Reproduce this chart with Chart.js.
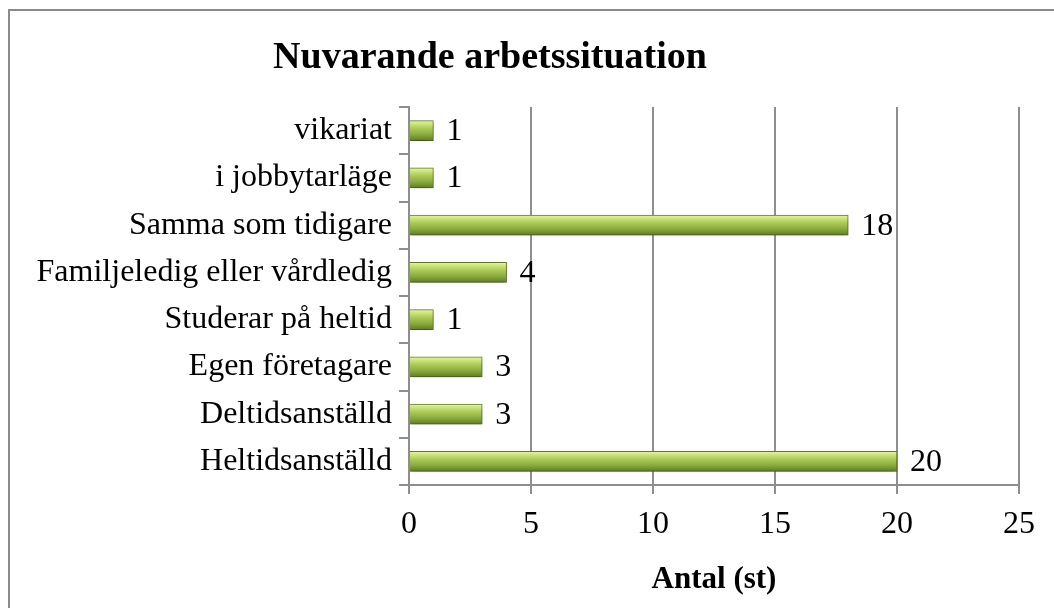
<!DOCTYPE html>
<html>
<head>
<meta charset="utf-8">
<script src="https://cdn.jsdelivr.net/npm/chart.js@4.4.0/dist/chart.umd.min.js"></script>
<style>
  html, body { margin: 0; padding: 0; background: #fff; }
  #wrap { position: relative; width: 1054px; height: 608px; overflow: hidden; }
  #frame { position: absolute; left: 8px; top: 9px; width: 1100px; height: 700px;
           border-top: 2px solid #8a8a8a; border-left: 2px solid #8a8a8a; }
  canvas { position: absolute; left: 0; top: 0; }
</style>
</head>
<body>
<div id="wrap">
  <div id="frame"></div>
  <canvas id="chart" width="1054" height="608"></canvas>
</div>
<script>
  // data, top to bottom as in the picture
  const categories = ['vikariat', 'i jobbytarläge', 'Samma som tidigare', 'Familjeledig eller vårdledig',
                      'Studerar på heltid', 'Egen företagare', 'Deltidsanställd', 'Heltidsanställd'];
  const counts = [1, 1, 18, 4, 1, 3, 3, 20];
  const xTicks = [0, 5, 10, 15, 20, 25];

  const chartTitle = 'Nuvarande arbetssituation';
  const xTitle = 'Antal (st)';
  const serif = '"Liberation Serif", "Times New Roman", serif';

  // title sits left of the plot centre, like the original
  const titlePlugin = {
    id: 'titlePlugin',
    afterDraw(chart) {
      const ctx = chart.ctx;
      ctx.save();
      ctx.font = 'bold 38px ' + serif;
      ctx.fillStyle = '#000';
      ctx.textAlign = 'center';
      ctx.textBaseline = 'middle';
      ctx.fillText(chartTitle, 490, 58);
      ctx.restore();
    }
  };

  // shadow under the bars and value labels next to them
  const bevelBars = {
    id: 'bevelBars',
    beforeDatasetsDraw(chart) {
      const ctx = chart.ctx;
      ctx.save();
      ctx.shadowColor = 'rgba(0,0,0,0.3)';
      ctx.shadowBlur = 5;
      ctx.shadowOffsetY = 4;
    },
    afterDatasetsDraw(chart) {
      const ctx = chart.ctx;
      ctx.restore();
      ctx.save();
      ctx.font = '32px ' + serif;
      ctx.fillStyle = '#000';
      ctx.textAlign = 'left';
      ctx.textBaseline = 'middle';
      chart.getDatasetMeta(0).data.forEach((bar, i) => {
        ctx.fillText(String(counts[i]), bar.x + 13, bar.y + 1);
      });
      ctx.restore();
    }
  };

  function barGradient(context) {
    const chart = context.chart;
    const y = chart.scales.y;
    if (!chart.chartArea || !y) return '#a6c451';
    const c = y.getPixelForValue(context.dataIndex);
    const g = chart.ctx.createLinearGradient(0, c - 10, 0, c + 10);
    g.addColorStop(0, '#e6f7a4');
    g.addColorStop(0.15, '#cde77c');
    g.addColorStop(0.4, '#aac957');
    g.addColorStop(0.7, '#89aa3e');
    g.addColorStop(1, '#5e7c27');
    return g;
  }

  const ctx = document.getElementById('chart').getContext('2d');
  const chart = new Chart(ctx, {
    type: 'bar',
    data: {
      labels: categories,
      datasets: [{
        data: counts,
        backgroundColor: barGradient,
        borderColor: '#5f7a25',
        borderWidth: 1,
        borderSkipped: 'start',
        barThickness: 20
      }]
    },
    options: {
      indexAxis: 'y',
      responsive: false,
      animation: false,
      layout: { padding: { top: 107, right: 35, bottom: 0, left: 0 } },
      plugins: {
        legend: { display: false },
        tooltip: { enabled: false }
      },
      scales: {
        x: {
          min: xTicks[0],
          max: xTicks[xTicks.length - 1],
          afterBuildTicks: scale => { scale.ticks = xTicks.map(v => ({ value: v })); },
          afterFit: scale => { scale.height = 123; },
          grid: { color: '#8e8e8e', lineWidth: 2, tickLength: 9 },
          border: { display: true, color: '#8e8e8e', width: 2 },
          ticks: { color: '#000', font: { family: serif, size: 32 }, padding: 11 },
          title: {
            display: true,
            text: xTitle,
            color: '#000',
            font: { family: serif, size: 31, weight: 'bold' },
            padding: { top: 0, bottom: 9 }
          }
        },
        y: {
          afterFit: scale => { scale.width = 409; },
          grid: { offset: true, drawOnChartArea: false, color: '#8e8e8e', lineWidth: 2, tickLength: 10 },
          border: { display: true, color: '#8e8e8e', width: 2 },
          ticks: { color: '#000', font: { family: serif, size: 32 }, padding: 7 }
        }
      }
    },
    plugins: [titlePlugin, bevelBars]
  });
</script>
</body>
</html>
